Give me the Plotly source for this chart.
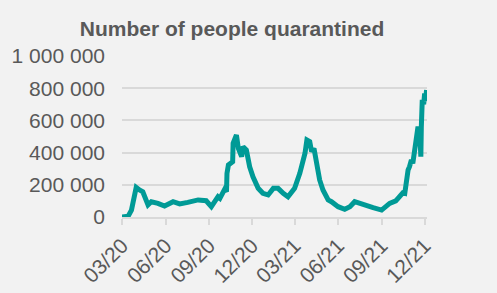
import plotly.graph_objects as go

dates = [
    "2020-03-01", "2020-03-09", "2020-03-14", "2020-03-21", "2020-03-28", "2020-03-31",
    "2020-04-07", "2020-04-14", "2020-04-25", "2020-05-02", "2020-05-16", "2020-05-30",
    "2020-06-17", "2020-07-01", "2020-07-18", "2020-08-09", "2020-08-26", "2020-09-06",
    "2020-09-20", "2020-09-24", "2020-10-04", "2020-10-08", "2020-10-09", "2020-10-12",
    "2020-10-21", "2020-10-22", "2020-10-29", "2020-11-02", "2020-11-09", "2020-11-12",
    "2020-11-19", "2020-11-26", "2020-12-03", "2020-12-14", "2020-12-24", "2021-01-04",
    "2021-01-15", "2021-01-25", "2021-02-05", "2021-02-15", "2021-03-01", "2021-03-12",
    "2021-03-23", "2021-03-27", "2021-04-02", "2021-04-06", "2021-04-11", "2021-04-20",
    "2021-04-23", "2021-04-30", "2021-05-11", "2021-05-18", "2021-06-01", "2021-06-15",
    "2021-06-26", "2021-07-06", "2021-07-24", "2021-08-14", "2021-09-01", "2021-09-18",
    "2021-10-01", "2021-10-16", "2021-10-20", "2021-10-23", "2021-10-27", "2021-10-30",
    "2021-11-03", "2021-11-06", "2021-11-10", "2021-11-14", "2021-11-17", "2021-11-21",
    "2021-11-23", "2021-11-24", "2021-11-26", "2021-11-29", "2021-12-01", "2021-12-03",
    "2021-12-05",
]
quarantined = [
    0, 2000, 5000, 43000, 126000, 184000,
    168000, 157000, 75000, 95000, 85000, 68000,
    95000, 81000, 91000, 106000, 101000, 64000,
    126000, 116000, 172000, 157000, 271000, 323000,
    343000, 458000, 509000, 426000, 375000, 437000,
    416000, 312000, 250000, 178000, 147000, 137000,
    178000, 178000, 147000, 126000, 178000, 271000,
    396000, 478000, 468000, 406000, 426000, 261000,
    230000, 168000, 106000, 95000, 64000, 48000,
    64000, 95000, 75000, 58000, 43000, 85000,
    100000, 150000, 147000, 230000, 292000, 312000,
    354000, 333000, 400000, 478000, 561000, 500000,
    375000, 561000, 727000, 700000, 768000, 720000,
    789000,
]

tick_dates = ["2020-03-01", "2020-06-01", "2020-09-01", "2020-12-01",
              "2021-03-01", "2021-06-01", "2021-09-01", "2021-12-01"]
tick_labels = ["03/20", "06/20", "09/20", "12/20", "03/21", "06/21", "09/21", "12/21"]
y_ticks = [0, 200000, 400000, 600000, 800000, 1000000]

grey_text = "#595959"
grid = "#d9d9d9"
font_family = "Liberation Sans, Arial, sans-serif"

fig = go.Figure()
fig.add_trace(go.Scatter(
    x=dates, y=quarantined, mode="lines",
    line=dict(color="#009a96", width=5),
    hoverinfo="skip", showlegend=False,
))

fig.update_layout(
    width=497, height=293,
    paper_bgcolor="#f2f2f2", plot_bgcolor="#f2f2f2",
    margin=dict(l=122, r=70, t=56, b=76),
    separators=". ",
    font=dict(family=font_family, color=grey_text, size=21),
    title=dict(
        text="<b>Number of people quarantined</b>",
        font=dict(family=font_family, size=21, color=grey_text),
        x=232 / 497, xref="container", xanchor="center",
        y=1 - 29 / 293, yref="container", yanchor="middle",
    ),
)
fig.update_xaxes(
    type="date",
    range=["2020-03-01", "2021-12-06"],
    tickvals=tick_dates, ticktext=tick_labels,
    tickangle=-45,
    showgrid=False,
    showline=True, linecolor=grid, linewidth=2,
    ticks="outside", ticklen=6, tickwidth=2, tickcolor=grid,
    tickfont=dict(size=21, color=grey_text),
    zeroline=False, automargin=False,
)
fig.update_yaxes(
    range=[0, 1000000],
    tickvals=y_ticks, tickformat=",d",
    showgrid=True, gridcolor=grid, gridwidth=2,
    showline=False, zeroline=False,
    ticks="", ticklabelstandoff=16,
    tickfont=dict(size=21, color=grey_text),
    automargin=False,
)

fig.write_html(
    "out.html",
    config={"displayModeBar": False},
    post_script="document.body.style.margin='0';document.body.style.background='#f2f2f2';",
)
